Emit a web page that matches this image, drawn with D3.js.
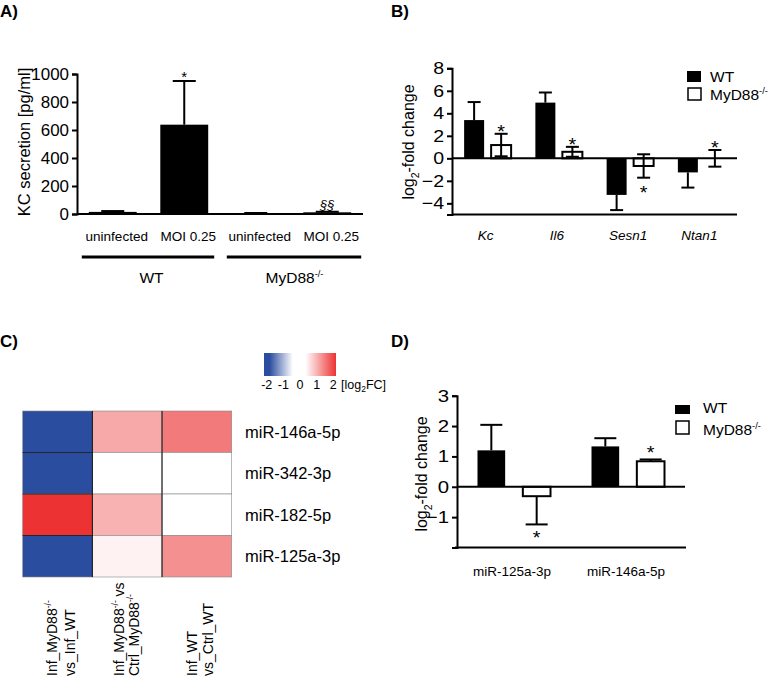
<!DOCTYPE html>
<html><head><meta charset="utf-8">
<script src="https://cdn.jsdelivr.net/npm/d3@7"></script>
<style>
html,body{margin:0;padding:0;background:#fff;}
svg{display:block;font-family:"Liberation Sans",Arimo,Arial,sans-serif;}
svg text{font-family:"Liberation Sans",Arimo,Arial,sans-serif;}
</style></head>
<body><svg id="chart" width="771" height="677"></svg>
<script>
// ---------- Panel A data ----------
const aCategories = ["uninfected", "MOI 0.25", "uninfected", "MOI 0.25"];
const aGroups = ["WT", "MyD88"];
const aValues = [15, 638, 5, 12];
const aErrors = [6, 312, 2, 4];
const aSig = ["", "*", "", "§§"];
const aTicks = [0, 200, 400, 600, 800, 1000];

// ---------- Panel B data ----------
const bGenes = ["Kc", "Il6", "Sesn1", "Ntan1"];
const bWT = [3.4, 4.95, -3.25, -1.25];
const bWTerr = [1.6, 0.9, 1.35, 1.35];
const bKO = [1.18, 0.58, -0.68, 0.0];
const bKOerr = [1.0, 0.44, 1.04, 0.74];
const bKOsig = ["*", "*", "*", "*"];
const bTicks = [-4, -2, 0, 2, 4, 6, 8];

// ---------- Panel C data ----------
const cMirs = ["miR-146a-5p", "miR-342-3p", "miR-182-5p", "miR-125a-3p"];
const cComparisons = ["Inf_MyD88 vs Inf_WT", "Inf_MyD88 vs Ctrl_MyD88", "Inf_WT vs Ctrl_WT"];
const cValues = [
  [-2, 0.84, 1.3],
  [-2, 0, 0],
  [2, 0.75, 0],
  [-2, 0.13, 1.08]
];
const cLegendTicks = [-2, -1, 0, 1, 2];

// ---------- Panel D data ----------
const dMirs = ["miR-125a-3p", "miR-146a-5p"];
const dWT = [1.2, 1.33];
const dWTerr = [0.84, 0.27];
const dKO = [-0.31, 0.84];
const dKOerr = [0.93, 0.06];
const dKOsig = ["*", "*"];
const dTicks = [-1, 0, 1, 2, 3];

const svg = d3.select("#chart");
const BLACK = "#000";
const FONT = "'Liberation Sans', Arimo, Arial, sans-serif";

// horizontal stretch of text about its anchor point
function stretch(sel, k) {
  sel.each(function () {
    const t = d3.select(this);
    const x = +t.attr("x") || 0, y = +t.attr("y") || 0;
    t.attr("transform", `translate(${x},${y}) scale(${k},1) translate(${-x},${-y})`);
  });
  return sel;
}
function panelLabel(t, x, y) {
  svg.append("text").attr("x", x).attr("y", y).attr("font-size", 17)
    .attr("font-weight", "bold").text(t);
}
function myd(sel, base, size) {
  sel.append("tspan").text(base);
  sel.append("tspan").attr("font-size", size * 0.6).attr("dy", -size * 0.4).text("-/-");
}
function log2Title(x, y, size) {
  const t = svg.append("text").attr("transform", `translate(${x},${y}) rotate(-90)`)
    .attr("text-anchor", "middle").attr("font-size", size);
  t.append("tspan").text("log");
  t.append("tspan").attr("font-size", size * 0.65).attr("dy", size * 0.3).text("2");
  t.append("tspan").attr("dy", -size * 0.3).text("-fold change");
}
function yAxis(scale, ticks, x, size, k) {
  const g = svg.append("g").attr("transform", `translate(${x},0)`)
    .call(d3.axisLeft(scale).tickValues(ticks).tickSize(5).tickPadding(3).tickFormat(d3.format("d")));
  g.attr("font-family", FONT);
  g.select(".domain").attr("stroke", BLACK).attr("stroke-width", 2);
  g.selectAll(".tick line").attr("stroke", BLACK).attr("stroke-width", 2);
  stretch(g.selectAll(".tick text").attr("font-size", size).attr("fill", BLACK), k);
  return g;
}
function errBar(g, cx, y0, y1, cap) {
  g.append("line").attr("x1", cx).attr("x2", cx).attr("y1", y0).attr("y2", y1)
    .attr("stroke", BLACK).attr("stroke-width", 2);
  g.append("line").attr("x1", cx - cap / 2).attr("x2", cx + cap / 2).attr("y1", y1).attr("y2", y1)
    .attr("stroke", BLACK).attr("stroke-width", 2);
}

// ================= Panel A =================
panelLabel("A)", 0, 17);
{
  const x = d3.scaleBand().domain(d3.range(aCategories.length)).range([77, 363]).paddingInner(0.33).paddingOuter(0.165);
  const y = d3.scaleLinear().domain([0, 1000]).range([214, 74]);
  const g = svg.append("g");
  aValues.forEach((v, i) => {
    const cx = x(i) + x.bandwidth() / 2;
    errBar(g, cx, y(v), y(v + aErrors[i]), 23);
    g.append("rect").attr("x", x(i)).attr("width", x.bandwidth())
      .attr("y", y(v)).attr("height", y(0) - y(v)).attr("fill", BLACK);
    if (aSig[i]) {
      g.append("text").attr("x", cx).attr("y", y(v + aErrors[i]) + (aSig[i] === "*" ? 1 : -3))
        .attr("text-anchor", "middle").attr("font-size", aSig[i] === "*" ? 15 : 13)
        .attr("font-style", aSig[i] === "*" ? "normal" : "italic").text(aSig[i]);
    }
    g.append("text").attr("x", cx + 4).attr("y", 241).attr("text-anchor", "middle")
      .attr("font-size", 13.5).text(aCategories[i]);
  });
  yAxis(y, aTicks, 77, 16, 1.06);
  svg.append("line").attr("x1", 77).attr("x2", 363).attr("y1", y(0)).attr("y2", y(0))
    .attr("stroke", BLACK).attr("stroke-width", 2);
  aGroups.forEach((gname, gi) => {
    const first = x(gi * 2), last = x(gi * 2 + 1) + x.bandwidth();
    svg.append("line").attr("x1", first - (gi ? 5 : 7)).attr("x2", last + (gi ? 10 : 6)).attr("y1", 257).attr("y2", 257)
      .attr("stroke", BLACK).attr("stroke-width", 3);
    const t = svg.append("text").attr("x", (first + last) / 2 + 3).attr("y", 283).attr("text-anchor", "middle").attr("font-size", 15.5);
    if (gi) myd(t, gname, 15.5); else t.text(gname);
  });
  svg.append("text").attr("transform", "translate(30,142) rotate(-90)").attr("text-anchor", "middle")
    .attr("font-size", 16.5).text("KC secretion [pg/ml]");
}

// ================= Panel B =================
panelLabel("B)", 391, 17);
{
  const x0 = d3.scaleBand().domain(bGenes).range([452, 737]);
  const gw = x0.bandwidth();
  const x1 = d3.scaleBand().domain(["WT", "KO"]).range([(gw - 47) / 2, (gw + 47) / 2]).paddingInner(0.26);
  const y = d3.scaleLinear().domain([-5, 8]).range([214.6, 68.3]);
  const g = svg.append("g");
  bGenes.forEach((gene, i) => {
    const xw = x0(gene) + x1("WT"), bw = x1.bandwidth();
    const vw = bWT[i];
    errBar(g, xw + bw / 2, y(vw), y(vw + Math.sign(vw) * bWTerr[i]), 13);
    g.append("rect").attr("x", xw).attr("width", bw).attr("y", y(Math.max(0, vw)))
      .attr("height", Math.abs(y(vw) - y(0))).attr("fill", BLACK);
    const xk = x0(gene) + x1("KO"), vk = bKO[i];
    const cx = xk + bw / 2;
    g.append("rect").attr("x", xk).attr("width", bw).attr("y", y(Math.max(0, vk)))
      .attr("height", Math.abs(y(vk) - y(0))).attr("fill", "#fff").attr("stroke", BLACK).attr("stroke-width", 2);
    errBar(g, cx, y(vk), y(vk + bKOerr[i]), 13);
    errBar(g, cx, y(vk), y(vk - bKOerr[i]), 13);
    const below = vk < 0;
    stretch(g.append("text").attr("x", cx).attr("text-anchor", "middle").attr("font-size", 18)
      .attr("y", below ? y(vk - bKOerr[i]) + 21 : y(vk + bKOerr[i]) + 4).text(bKOsig[i]), 1.1);
    g.append("text").attr("x", x0(gene) + gw / 2 - 2).attr("y", 240).attr("text-anchor", "middle")
      .attr("font-size", 13.5).attr("font-style", "italic").text(gene);
  });
  yAxis(y, bTicks, 452, 17, 1.15);
  svg.append("line").attr("x1", 452).attr("x2", 737).attr("y1", y(0)).attr("y2", y(0)).attr("stroke", BLACK).attr("stroke-width", 2);
  svg.append("line").attr("x1", 452).attr("x2", 737).attr("y1", y(-5)).attr("y2", y(-5)).attr("stroke", BLACK).attr("stroke-width", 2);
  log2Title(414, 142, 16);
  svg.append("rect").attr("x", 687).attr("y", 71).attr("width", 14).attr("height", 11).attr("fill", BLACK);
  svg.append("rect").attr("x", 688).attr("y", 88).attr("width", 13).attr("height", 12).attr("fill", "#fff").attr("stroke", BLACK).attr("stroke-width", 1.5);
  svg.append("text").attr("x", 710).attr("y", 82).attr("font-size", 15.5).text("WT");
  myd(svg.append("text").attr("x", 710).attr("y", 100).attr("font-size", 15.5), "MyD88", 15.5);
}

// ================= Panel C =================
panelLabel("C)", 0, 347);
{
  const color = d3.scaleLinear().domain([-2, 0, 2]).range(["#2b4d9f", "#ffffff", "#ec3232"]);
  const x = d3.scaleBand().domain(cComparisons).range([22.7, 231.7]);
  const y = d3.scaleBand().domain(cMirs).range([411, 577]);
  const g = svg.append("g");
  cMirs.forEach((m, r) => {
    cComparisons.forEach((c, k) => {
      g.append("rect").attr("x", x(c)).attr("y", y(m)).attr("width", x.bandwidth()).attr("height", y.bandwidth())
        .attr("fill", color(cValues[r][k])).attr("stroke", "#888").attr("stroke-width", 0.6);
    });
    svg.append("text").attr("x", 245).attr("y", y(m) + y.bandwidth() / 2 + 6).attr("font-size", 16.5).text(m);
  });
  cComparisons.slice(1).forEach(c => {
    g.append("line").attr("x1", x(c)).attr("x2", x(c)).attr("y1", 411).attr("y2", 577).attr("stroke", "#111").attr("stroke-width", 1);
  });
  cMirs.slice(1).forEach(m => {
    g.append("line").attr("x1", 22.7).attr("x2", x(cComparisons[1])).attr("y1", y(m)).attr("y2", y(m)).attr("stroke", "#111").attr("stroke-width", 0.8);
  });
  const colLines = [
    [["Inf_MyD88", true, ""], ["vs_Inf_WT", false, ""]],
    [["Inf_MyD88", true, " vs"], ["Ctrl_MyD88", true, ""]],
    [["Inf_WT", false, ""], ["vs_Ctrl_WT", false, ""]]
  ];
  const lineX = [[57, 75], [124, 139], [197, 213]];
  colLines.forEach((lines, k) => {
    lines.forEach((ln, j) => {
      const t = svg.append("text").attr("transform", `translate(${lineX[k][j]},676) rotate(-90)`).attr("font-size", 14);
      t.append("tspan").text(ln[0]);
      if (ln[1]) t.append("tspan").attr("font-size", 8.5).attr("dy", -6).text("-/-");
      if (ln[2]) t.append("tspan").attr("dy", 6).text(ln[2]);
    });
  });
  const lx = d3.scaleLinear().domain([-2, 2]).range([266.7, 333.3]);
  const defs = svg.append("defs");
  const grad = defs.append("linearGradient").attr("id", "cgrad");
  [[-2, -2], [-1.7, -2], [-0.4, 0], [0.3, 0], [2, 2]].forEach(([pos, v]) => {
    grad.append("stop").attr("offset", ((pos + 2) / 4 * 100) + "%").attr("stop-color", color(v));
  });
  svg.append("rect").attr("x", 264).attr("y", 353).attr("width", 72).attr("height", 23).attr("fill", "url(#cgrad)");
  cLegendTicks.forEach(v => {
    svg.append("text").attr("x", lx(v)).attr("y", 389).attr("text-anchor", "middle").attr("font-size", 12.5).text(v);
  });
  const lt = svg.append("text").attr("x", 341).attr("y", 389).attr("font-size", 12.5);
  lt.append("tspan").text("[log");
  lt.append("tspan").attr("font-size", 8.5).attr("dy", 3).text("2");
  lt.append("tspan").attr("dy", -3).text("FC]");
}

// ================= Panel D =================
panelLabel("D)", 391, 347);
{
  const x0 = d3.scaleBand().domain(dMirs).range([457, 685]);
  const gw = x0.bandwidth();
  const x1 = d3.scaleBand().domain(["WT", "KO"]).range([(gw - 73) / 2, (gw + 73) / 2]).paddingInner(0.39);
  const y = d3.scaleLinear().domain([-2, 3]).range([547.5, 395.7]);
  const g = svg.append("g");
  dMirs.forEach((m, i) => {
    const bw = x1.bandwidth();
    const xw = x0(m) + x1("WT"), vw = dWT[i];
    errBar(g, xw + bw / 2, y(vw), y(vw + Math.sign(vw) * dWTerr[i]), 22);
    g.append("rect").attr("x", xw).attr("width", bw).attr("y", y(Math.max(0, vw)))
      .attr("height", Math.abs(y(vw) - y(0))).attr("fill", BLACK);
    const xk = x0(m) + x1("KO"), vk = dKO[i], cx = xk + bw / 2;
    const end = vk + Math.sign(vk) * dKOerr[i];
    errBar(g, cx, y(vk), y(end), 22);
    g.append("rect").attr("x", xk).attr("width", bw).attr("y", y(Math.max(0, vk)))
      .attr("height", Math.abs(y(vk) - y(0))).attr("fill", "#fff").attr("stroke", BLACK).attr("stroke-width", 2);
    stretch(g.append("text").attr("x", cx).attr("text-anchor", "middle").attr("font-size", 18)
      .attr("y", vk < 0 ? y(end) + 20 : y(end)).text(dKOsig[i]), 1.1);
    g.append("text").attr("x", x0(m) + gw / 2 - 2).attr("y", 576).attr("text-anchor", "middle")
      .attr("font-size", 13.5).text(m);
  });
  yAxis(y, dTicks, 457, 17, 1.2);
  svg.append("line").attr("x1", 457).attr("x2", 685).attr("y1", y(0)).attr("y2", y(0)).attr("stroke", BLACK).attr("stroke-width", 2);
  svg.append("line").attr("x1", 455).attr("x2", 686).attr("y1", y(-2)).attr("y2", y(-2)).attr("stroke", BLACK).attr("stroke-width", 2);
  log2Title(427, 474, 16);
  svg.append("rect").attr("x", 675).attr("y", 405).attr("width", 15).attr("height", 9).attr("fill", BLACK);
  svg.append("rect").attr("x", 676).attr("y", 421).attr("width", 13).attr("height", 13).attr("fill", "#fff").attr("stroke", BLACK).attr("stroke-width", 1.5);
  svg.append("text").attr("x", 703).attr("y", 413).attr("font-size", 15.5).text("WT");
  myd(svg.append("text").attr("x", 703).attr("y", 435).attr("font-size", 15.5), "MyD88", 15.5);
}
</script></body></html>
